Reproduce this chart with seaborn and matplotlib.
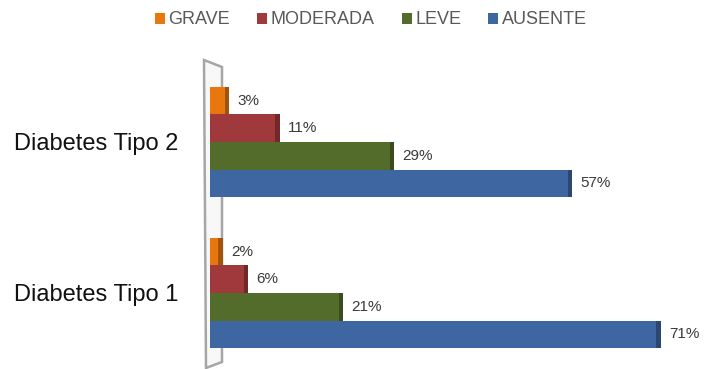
import matplotlib
matplotlib.use("Agg")
import matplotlib.pyplot as plt
import matplotlib.colors as mcolors
from matplotlib.patches import Rectangle, Polygon
import seaborn as sns
import pandas as pd

categories = ["Diabetes Tipo 2", "Diabetes Tipo 1"]
series = ["GRAVE", "MODERADA", "LEVE", "AUSENTE"]
grave = [3, 2]
moderada = [11, 6]
leve = [29, 21]
ausente = [57, 71]
colors = ["#E8770E", "#A0393B", "#546C2B", "#3E66A0"]

rows = []
for name, vals in zip(series, [grave, moderada, leve, ausente]):
    for cat, v in zip(categories, vals):
        rows.append({"categoria": cat, "grau": name, "valor": v})
df = pd.DataFrame(rows)

sns.set_theme(style="white")
plt.rcParams["font.family"] = ["Liberation Sans", "DejaVu Sans"]

fig = plt.figure(figsize=(7.10, 3.69), dpi=100)
W, H = 710, 369

# gray side wall behind the left ends of the bars
wall = Polygon([[204 / W, 1 - 60 / H], [222 / W, 1 - 67 / H], [222 / W, 1 - 362 / H],
                [206 / W, 1 - 368 / H]], closed=True, transform=fig.transFigure,
               facecolor="#F8F8F8", edgecolor="#A6A6A6", linewidth=1.8, zorder=-5)
fig.patches.append(wall)

ax = fig.add_axes([210 / W, 1 - 365 / H, 489 / W, 305 / H])
ax.set_zorder(1)
ax.patch.set_alpha(0)

sns.barplot(data=df, y="categoria", x="valor", hue="grau", order=categories,
            hue_order=series, palette=colors, orient="h", width=0.73,
            saturation=1, ax=ax, legend=False, edgecolor="none")

ax.set_xlim(0, 77)
ax.set_ylim(1.477, -0.543)

# darker side face on the right end of every bar for a 3D look
for patch in list(ax.patches):
    x0 = patch.get_x()
    w = patch.get_width()
    y0 = patch.get_y()
    h = patch.get_height()
    base = mcolors.to_rgb(patch.get_facecolor())
    dark = tuple(c * 0.7 for c in base)
    ax.add_patch(Rectangle((x0 + w - 0.7, y0), 0.7, h, facecolor=dark,
                           edgecolor="none", zorder=patch.get_zorder() + 0.1))

for container in ax.containers:
    ax.bar_label(container, labels=[f"{int(v)}%" for v in container.datavalues],
                 padding=6, fontsize=11, color="#3A3A3A")

ax.set_xlabel("")
ax.set_ylabel("")
ax.set_xticks([])
ax.set_yticks([0, 1])
ax.set_yticklabels(categories, fontsize=17, color="#111111")
ax.tick_params(axis="y", length=0, pad=141)
for lbl in ax.get_yticklabels():
    lbl.set_horizontalalignment("left")
for s in ax.spines.values():
    s.set_visible(False)

handles = [Rectangle((0, 0), 1, 1, facecolor=c, edgecolor="none") for c in colors]
fig.legend(handles, series, loc="center", bbox_to_anchor=(371 / W, 1 - 20 / H),
           ncol=4, frameon=False, fontsize=13, handlelength=0.55, handleheight=0.55,
           handletextpad=0.2, columnspacing=1.5, labelcolor="#595959")

fig.savefig("out.png", dpi=100, facecolor="white")
